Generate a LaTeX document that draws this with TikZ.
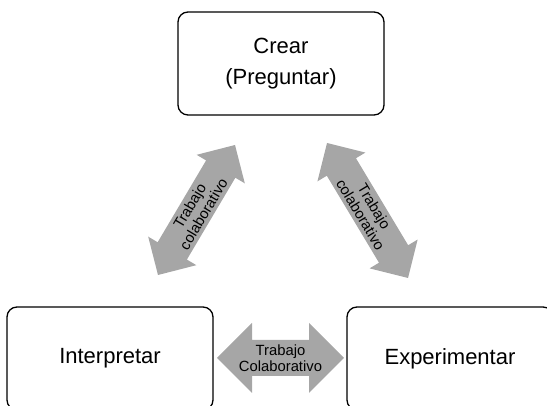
\documentclass[tikz,border=0pt]{standalone}
\usepackage{fontspec}
\setmainfont{Liberation Sans}
\usetikzlibrary{calc}
\definecolor{arrgray}{RGB}{166,166,166}
\tikzset{
  box/.style={draw=black, line width=1.3pt, rounded corners=10pt, minimum width=206pt, minimum height=103pt, inner sep=0pt, align=center, font=\fontsize{22}{31.5}\selectfont},
  arrowfill/.style={fill=arrgray},
  lbl/.style={align=center, inner sep=0pt, font=\fontsize{14.8}{16}\selectfont},
}
\newcommand\dblarrow[4]{%
  \coordinate (#1-h) at ($(#1)!#3!(#2)$);
  \coordinate (#2-h) at ($(#2)!#3!(#1)$);
  \fill[arrowfill] (#1) -- ($(#1-h)!#3!90:(#2)$) -- ($(#1-h)!#4!90:(#2)$)
    -- ($(#2-h)!#4!-90:(#1)$) -- ($(#2-h)!#3!-90:(#1)$) -- (#2)
    -- ($(#2-h)!#3!90:(#1)$) -- ($(#2-h)!#4!90:(#1)$)
    -- ($(#1-h)!#4!-90:(#2)$) -- ($(#1-h)!#3!-90:(#2)$) -- cycle;}
\begin{document}
\begin{tikzpicture}[x=1pt,y=1pt]
\useasboundingbox (0,0) rectangle (547,406);
\node[box] (crear) at (281,342.5) {Crear\\(Preguntar)};
\node[box] (interp) at (110,47.5) {Interpretar};
\node[box] (exper) at (450,47.5) {Experimentar};
% left diagonal
\coordinate (l1) at (158,131);
\coordinate (l2) at (235,261);
\dblarrow{l1}{l2}{28pt}{17pt}
\node[lbl, rotate=59.4] (tl) at ($(l1)!0.5!(l2)$) {Trabajo\\colaborativo};
% right diagonal
\coordinate (r1) at (327,263);
\coordinate (r2) at (408,128);
\dblarrow{r1}{r2}{28pt}{17pt}
\node[lbl, rotate=-59.0] (tr) at ($(r1)!0.5!(r2)$) {Trabajo\\colaborativo};
% horizontal
\coordinate (h1) at (217,48);
\coordinate (h2) at (344,48);
\dblarrow{h1}{h2}{35pt}{18pt}
\node[lbl] (th) at ($(h1)!0.5!(h2)$) {Trabajo\\Colaborativo};
\end{tikzpicture}
\end{document}
